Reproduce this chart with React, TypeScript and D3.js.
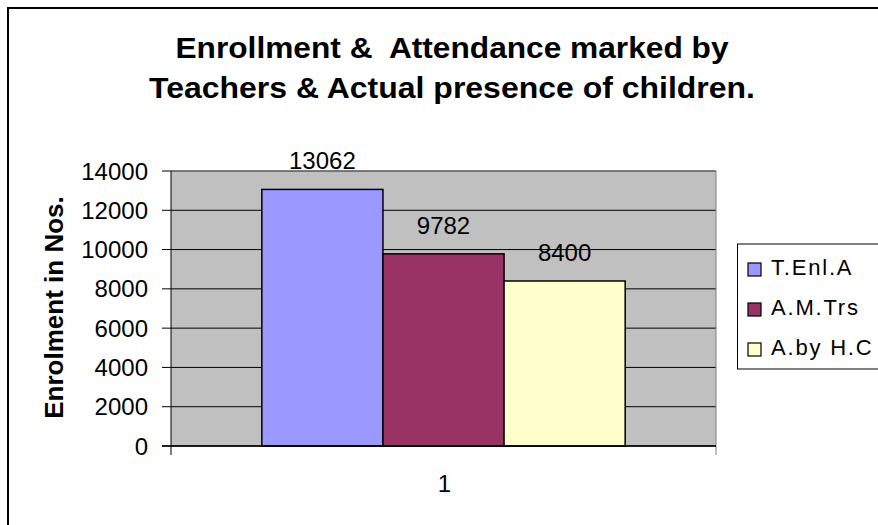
import React from "react";
import * as d3 from "d3";

const categories = ["1"];
const seriesNames = ["T.Enl.A", "A.M.Trs", "A.by H.C"];
const seriesValues = [13062, 9782, 8400];
const seriesColors = ["#9999FF", "#993366", "#FFFFCC"];
const yTicks = [0, 2000, 4000, 6000, 8000, 10000, 12000, 14000];
const titleLines = ["Enrollment &  Attendance marked by", "Teachers & Actual presence of children."];
const yTitle = "Enrolment in Nos.";

export default function App() {
  const W = 878, H = 525;
  const left = 171, right = 716, top = 171, bottom = 446;
  const y = d3.scaleLinear().domain([0, 14000]).range([bottom, top]);
  const x0 = d3.scaleBand().domain(categories).range([left, right]).paddingInner(0).paddingOuter(0);
  const groupW = x0.bandwidth();
  const barW = groupW / 4.5;
  const font = "Arial, 'Liberation Sans', Helvetica, sans-serif";
  const titleWidths = [553, 606];
  const titleBase = [58, 98];
  return (
    <svg width={W} height={H} style={{ position: "absolute", left: 0, top: 0 }} fontFamily={font}>
      <rect x={0} y={0} width={W} height={H} fill="#fff" />
      <rect x={8} y={8} width={W + 20} height={H + 20} fill="#fff" stroke="#000" strokeWidth={2} />
      {titleLines.map((t, i) => (
        <text key={i} x={452 - titleWidths[i] / 2} y={titleBase[i]} fontWeight="bold" fontSize={30}
          textLength={titleWidths[i]} lengthAdjust="spacingAndGlyphs" style={{ whiteSpace: "pre" }}>{t}</text>
      ))}
      <rect x={left} y={top} width={right - left} height={bottom - top} fill="#C0C0C0" />
      {yTicks.map((t) => (
        <g key={t}>
          <line x1={left - 9} x2={right} y1={y(t)} y2={y(t)} stroke="#000" strokeWidth={1} />
          <text x={148} y={y(t)} dy="0.36em" textAnchor="end" fontSize={24}>{t}</text>
        </g>
      ))}
      <line x1={right} x2={right} y1={top} y2={bottom} stroke="#808080" strokeWidth={1} />
      <line x1={left} x2={right} y1={top} y2={top} stroke="#808080" strokeWidth={1} />
      {categories.map((c) => {
        const gx = x0(c)!;
        return seriesValues.map((v, i) => {
          const bx = gx + barW * 0.75 + i * barW;
          return (
            <g key={c + i}>
              <rect x={bx} y={y(v)} width={barW} height={bottom - y(v)} fill={seriesColors[i]} stroke="#000" strokeWidth={1.5} />
              <text x={bx + barW / 2} y={y(v) - 20} textAnchor="middle" fontSize={24}>{v}</text>
            </g>
          );
        });
      })}
      <line x1={left} x2={left} y1={top} y2={bottom + 9} stroke="#000" strokeWidth={1} />
      <line x1={right} x2={right} y1={bottom} y2={bottom + 9} stroke="#808080" strokeWidth={1} />
      <line x1={left - 9} x2={right} y1={bottom} y2={bottom} stroke="#000" strokeWidth={1.5} />
      {categories.map((c) => (
        <text key={c} x={x0(c)! + groupW / 2 + 1} y={492} textAnchor="middle" fontSize={24}>{c}</text>
      ))}
      <text transform={`translate(62.5, ${(top + bottom) / 2 - 1}) rotate(-90)`} textAnchor="middle" fontWeight="bold" fontSize={26}>{yTitle}</text>
      <rect x={737.5} y={244} width={160} height={125} fill="#fff" stroke="#000" strokeWidth={1} />
      {seriesNames.map((s, i) => (
        <g key={s}>
          <rect x={748} y={263 + i * 40} width={13} height={13} fill={seriesColors[i]} stroke="#000" strokeWidth={1.2} />
          <text x={771} y={275 + i * 40} fontSize={22} letterSpacing={1.8}>{s}</text>
        </g>
      ))}
    </svg>
  );
}
